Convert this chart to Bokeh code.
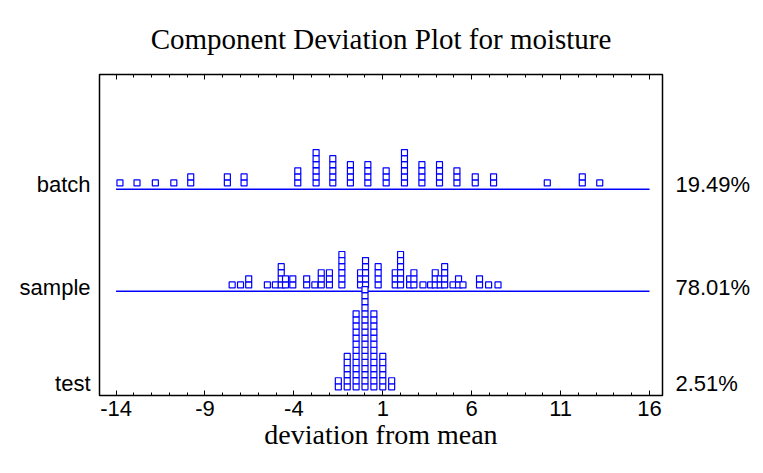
from bokeh.plotting import figure
from bokeh.models import FixedTicker, LinearAxis, Range1d, Title
from bokeh.embed import file_html
from bokeh.resources import INLINE

# ---------------- data ----------------
components = ["batch", "sample", "test"]
percent_labels = ["19.49%", "78.01%", "2.51%"]

batch_bins = [-13.78, -12.82, -11.79, -10.75, -9.80, -7.74, -6.80, -3.78, -2.75, -1.81,
              -0.82, 0.16, 1.19, 2.22, 3.20, 4.19, 5.17, 6.20, 7.23, 10.25, 12.22, 13.20]
batch_counts = [1, 1, 1, 1, 2, 2, 2, 3, 6, 5, 4, 4, 3, 6, 4, 4, 3, 2, 2, 1, 2, 1]

sample_bins = [-7.47, -7.00, -6.54, -5.49, -5.04, -4.71, -4.47, -4.06, -3.28, -2.82,
               -2.46, -2.00, -1.30, -0.25, 0.03, 0.74, 1.70, 2.00, 2.51, 2.75,
               3.26, 3.69, 3.95, 4.23, 4.48, 4.95, 5.26, 5.51, 6.44, 6.95, 7.48]
sample_counts = [1, 1, 2, 1, 1, 4, 2, 2, 2, 1,
                 3, 3, 6, 3, 5, 4, 3, 6, 2, 3,
                 1, 1, 3, 2, 4, 1, 2, 1, 2, 1, 1]

test_bins = [-1.5, -1.0, -0.5, 0.0, 0.5, 1.0, 1.5]
test_counts = [2, 6, 13, 17, 13, 6, 2]

x_ticks = [-14, -9, -4, 1, 6, 11, 16]
x_tick_labels = ["-14", "-9", "-4", "1", "6", "11", "16"]
x_minor = list(range(-14, 17))
line_start, line_end = -14, 16

# ---------------- layout ----------------
W, H = 763, 473
BL, BR, BT, BB = 99, 101, 73, 78
x_lo, x_hi = -14.93, 16.73
y_lo, y_hi = -0.023, 3.126
frame_h = H - BT - BB
px_per_unit = frame_h / (y_hi - y_lo)
row_level = {"test": 0.0, "sample": 1.0, "batch": 2.0}
label_offset = {"test": 0.098, "sample": 0.036, "batch": 0.042}
box_step = 6.1 / px_per_unit
box_gap = 3.3 / px_per_unit

BLUE = "#0000ff"

xs, ys = [], []
for name, bins, counts in [("batch", batch_bins, batch_counts),
                           ("sample", sample_bins, sample_counts),
                           ("test", test_bins, test_counts)]:
    base = row_level[name]
    for b, c in zip(bins, counts):
        for k in range(c):
            xs.append(b)
            ys.append(base + box_gap + box_step * (k + 0.5))

p = figure(width=W, height=H, x_range=Range1d(x_lo, x_hi), y_range=Range1d(y_lo, y_hi),
           output_backend="svg", toolbar_location=None,
           min_border_left=BL, min_border_right=BR, min_border_top=BT, min_border_bottom=BB,
           x_axis_location=None, y_axis_location=None)
p.grid.visible = False
p.outline_line_color = "black"
p.outline_line_width = 1.5
p.background_fill_color = "white"
p.border_fill_color = "white"

p.title = Title(text="Component Deviation Plot for moisture", align="center",
                text_font="Liberation Serif", text_font_size="29px", text_font_style="normal",
                text_color="black", standoff=40)

# baselines
p.segment(x0=[line_start, line_start], x1=[line_end, line_end],
          y0=[row_level["batch"], row_level["sample"]], y1=[row_level["batch"], row_level["sample"]],
          line_color=BLUE, line_width=1.5)

p.scatter(x=xs, y=ys, marker="square", size=6, fill_color="white",
          line_color=BLUE, line_width=1.2)

def xaxis(loc, labels=True):
    ax = LinearAxis(ticker=FixedTicker(ticks=x_ticks, minor_ticks=x_minor),
                    major_tick_in=5, major_tick_out=0, minor_tick_in=3, minor_tick_out=0,
                    major_tick_line_color="black", minor_tick_line_color="black",
                    axis_line_color=None)
    if labels:
        ax.major_label_overrides = {t: s for t, s in zip(x_ticks, x_tick_labels)}
        ax.axis_label = "deviation from mean"
        ax.axis_label_text_font = "Liberation Serif"
        ax.axis_label_text_font_size = "28px"
        ax.axis_label_text_font_style = "normal"
        ax.axis_label_text_color = "black"
        ax.axis_label_standoff = 0
        ax.major_label_text_font = "Liberation Sans"
        ax.major_label_text_font_size = "22px"
        ax.major_label_text_color = "black"
        ax.major_label_standoff = 5
    else:
        ax.major_label_text_font_size = "1px"
        ax.major_label_text_color = None
    p.add_layout(ax, loc)

xaxis("below", True)
xaxis("above", False)

label_pos = [row_level[c] + label_offset[c] for c in components]

def yaxis(loc, texts, standoff):
    ax = LinearAxis(ticker=FixedTicker(ticks=label_pos, minor_ticks=[]),
                    major_label_overrides={pos: t for pos, t in zip(label_pos, texts)},
                    major_tick_in=0, major_tick_out=0, minor_tick_in=0, minor_tick_out=0,
                    major_tick_line_color=None, minor_tick_line_color=None,
                    axis_line_color=None, major_label_standoff=standoff,
                    major_label_text_font="Liberation Sans", major_label_text_font_size="22px",
                    major_label_text_color="black",
                    major_label_orientation="horizontal")
    p.add_layout(ax, loc)

yaxis("left", components, 9)
yaxis("right", percent_labels, 13)

open("out.html", "w").write(file_html(p, INLINE))
